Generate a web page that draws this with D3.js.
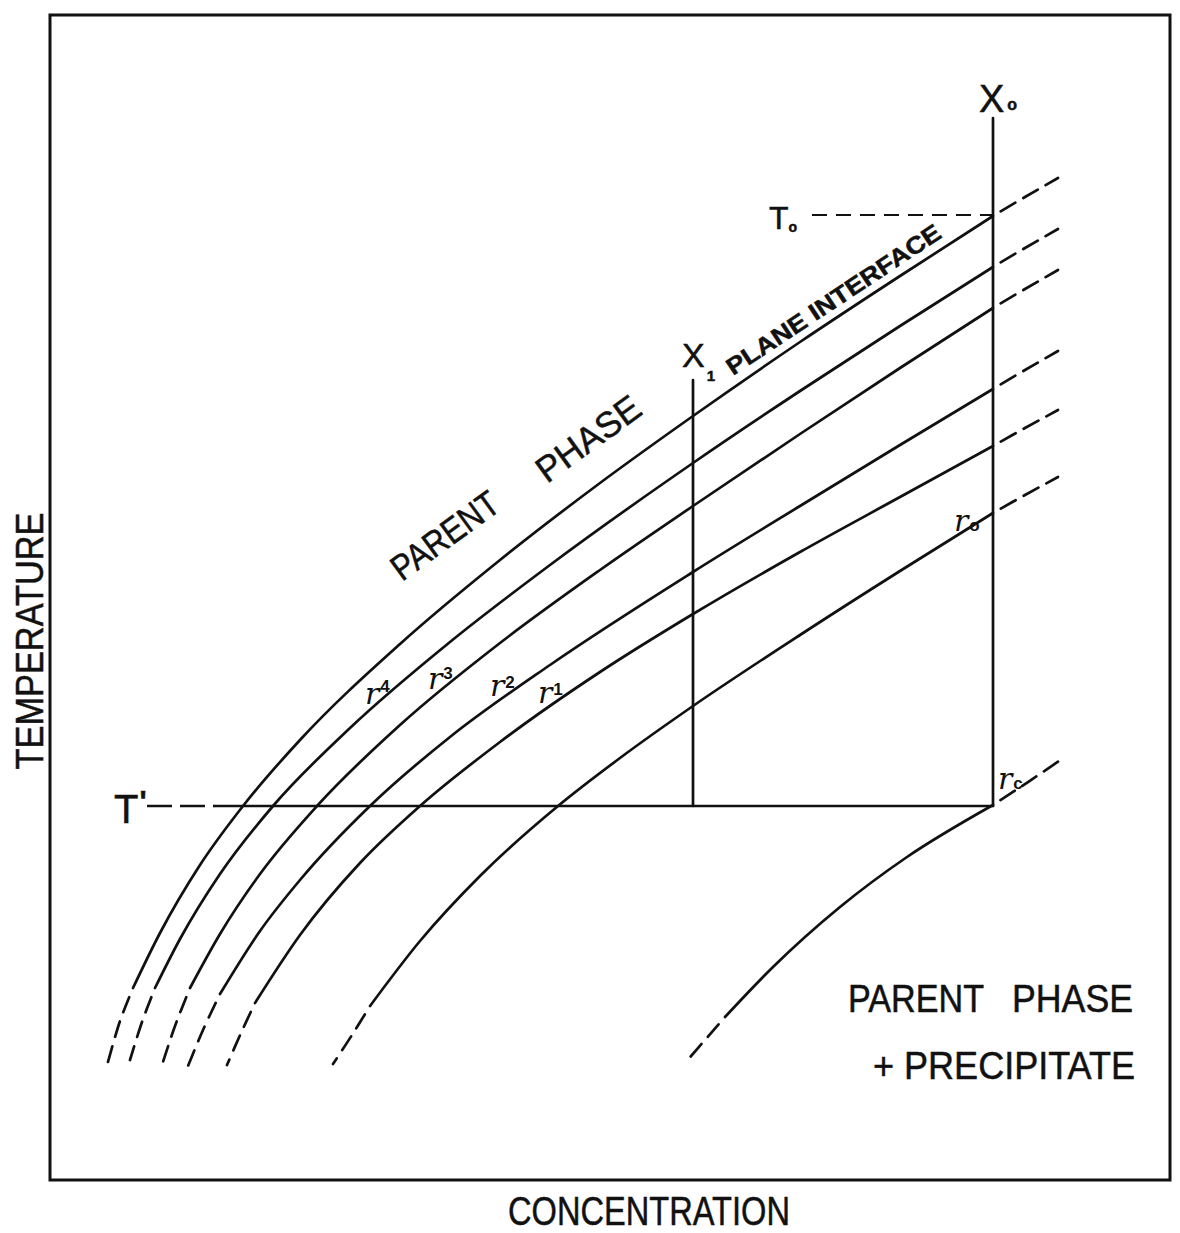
<!DOCTYPE html>
<html>
<head>
<meta charset="utf-8">
<script src="https://cdn.jsdelivr.net/npm/d3@7"></script>
<style>
  body { margin: 0; background: #fff; }
  text { font-family: 'Liberation Sans', 'DejaVu Sans', sans-serif; fill: #111; }
  text.big { stroke: #111; stroke-width: 0.5; }
</style>
</head>
<body>
<svg id="chart" width="1180" height="1233"></svg>
<script>
// concentration (x) vs temperature (y), arbitrary units
// every curve: 3 pts of lower dashed tail, solid part, 3 pts of upper dashed tail
var planeCurve = [[58,118],[70,159],[83,192],[110,247],[150,315],[193,374],[250,440],[350,536],[450,620],[550,697],[643,764],[750,838],[850,904],[943,964],[975,983],[1008,1002]]
var r4Curve = [[80,120],[92,158],[105,192],[130,241],[170,306],[223,374],[300,452],[400,538],[500,615],[643,717],[750,789],[850,854],[943,913],[975,932],[1008,951]]
var r3Curve = [[112,115],[125,154],[140,192],[170,246],[210,306],[267,374],[350,455],[450,537],[550,610],[643,674],[750,746],[850,812],[943,872],[975,891],[1008,910]]
var r2Curve = [[138,114],[153,150],[170,186],[210,249],[250,300],[320,374],[400,443],[500,515],[643,608],[750,674],[850,735],[943,791],[975,810],[1008,829]]
var r1Curve = [[177,115],[191,147],[205,177],[250,245],[310,317],[370,374],[450,438],[550,508],[643,566],[750,628],[850,683],[943,734],[975,752],[1008,770]]
var r0Curve = [[283,116],[302,145],[320,174],[370,239],[430,304],[508,374],[570,422],[643,474],[750,545],[850,609],[943,667],[975,685],[1008,703]]
var rcCurve = [[635,117],[655,140],[675,163],[723,213],[790,273],[857,323],[943,375],[978,398],[1012,421]]

var curves = [planeCurve, r4Curve, r3Curve, r2Curve, r1Curve, r0Curve, rcCurve]

// guide levels
var tPrime = 374, tZero = 965, xOne = 643, xZero = 943
var xOneTop = 800, xZeroTop = 1062
var tPrimeDashFrom = 97, tPrimeSolidFrom = 165, tZeroFrom = 762

// curve labels: r with subscript
var rLabels = [
  {sub: '4', x: 315, y: 476, raise: 12},
  {sub: '3', x: 378, y: 491, raise: 10},
  {sub: '2', x: 440, y: 484, raise: 8},
  {sub: '1', x: 488, y: 477, raise: 8},
  {sub: 'o', x: 904, y: 649, raise: 0},
  {sub: 'c', x: 948, y: 391, raise: 0}
]

var svg = d3.select('#chart')

var x = d3.scaleLinear().domain([0, 1120]).range([50, 1170])
var y = d3.scaleLinear().domain([0, 1165]).range([1180, 15])

// frame
svg.append('rect')
  .attr('x', x(0)).attr('y', y(1165))
  .attr('width', x(1120) - x(0)).attr('height', y(0) - y(1165))
  .attr('fill', 'none').attr('stroke', '#111').attr('stroke-width', 3)

var line = d3.line()
  .x(d => x(d[0]))
  .y(d => y(d[1]))
  .curve(d3.curveMonotoneX)

var tail = d3.line()
  .x(d => x(d[0]))
  .y(d => y(d[1]))
  .curve(d3.curveCatmullRom)

var ink = svg.append('g').attr('fill', 'none').attr('stroke', '#111').attr('stroke-linecap', 'round')

curves.forEach(pts => {
  var n = pts.length
  ink.append('path').attr('d', line(pts.slice(2, n - 2))).attr('stroke-width', 2.7)
  // lower tail drawn from solid end downwards, starts with a gap
  ink.append('path').attr('d', tail(pts.slice(0, 3).reverse()))
    .attr('stroke-width', 2.7).attr('stroke-dasharray', '16,10').attr('stroke-dashoffset', 16)
  ink.append('path').attr('d', tail(pts.slice(n - 3)))
    .attr('stroke-width', 2.7).attr('stroke-dasharray', '17,9').attr('stroke-dashoffset', 17)
})

// T' line
ink.append('line')
  .attr('x1', x(tPrimeDashFrom)).attr('x2', x(tPrimeSolidFrom))
  .attr('y1', y(tPrime)).attr('y2', y(tPrime))
  .attr('stroke-width', 2.4).attr('stroke-dasharray', '25,8').attr('stroke-linecap', 'butt')
ink.append('line')
  .attr('x1', x(tPrimeSolidFrom)).attr('x2', x(xZero))
  .attr('y1', y(tPrime)).attr('y2', y(tPrime))
  .attr('stroke-width', 2.7)

// T0 line
ink.append('line')
  .attr('x1', x(tZeroFrom)).attr('x2', x(xZero))
  .attr('y1', y(tZero)).attr('y2', y(tZero))
  .attr('stroke-width', 2.2).attr('stroke-dasharray', '15,9').attr('stroke-linecap', 'butt')

// X1 and X0 verticals
ink.append('line')
  .attr('x1', x(xOne)).attr('x2', x(xOne))
  .attr('y1', y(tPrime)).attr('y2', y(xOneTop))
  .attr('stroke-width', 2.7)
ink.append('line')
  .attr('x1', x(xZero)).attr('x2', x(xZero))
  .attr('y1', y(tPrime)).attr('y2', y(xZeroTop))
  .attr('stroke-width', 2.7)

// text helpers
function label(str, px, py, size, opts) {
  opts = opts || {}
  var t = svg.append('text')
    .attr('class', 'big')
    .attr('x', px).attr('y', py)
    .attr('font-size', size)
    .text(str)
  if (opts.anchor) t.attr('text-anchor', opts.anchor)
  if (opts.weight) t.attr('font-weight', opts.weight)
  if (opts.len) t.attr('textLength', opts.len).attr('lengthAdjust', 'spacingAndGlyphs')
  if (opts.rotate != null) t.attr('transform', `rotate(${opts.rotate},${px},${py})`)
  return t
}

// symbol with a small subscript / prime in the same text element
function symbol(main, sub, px, py, size, subSize, dx, dy) {
  var t = svg.append('text').attr('class', 'big')
    .attr('x', px).attr('y', py).attr('font-size', size)
  t.append('tspan').text(main)
  t.append('tspan').attr('dx', dx).attr('dy', dy)
    .attr('font-size', subSize).attr('font-weight', 'bold').text(sub)
}

symbol('X', 'o', x(xZero) - 14, y(xZeroTop) - 6, 38, 16, 3, -2)
symbol('T', 'o', x(tZeroFrom) - 43, y(tZero) + 14, 32, 14, 0, 3)
symbol('X', '1', x(xOne) - 11, y(xOneTop) - 13, 34, 15, 2, 14)
symbol('T', "'", x(tPrimeDashFrom) - 33, y(tPrime) + 17, 40, 30, 1, -12)

// r labels
rLabels.forEach(d => {
  var px = x(d.x), py = y(d.y)
  var t = svg.append('text').attr('x', px).attr('y', py)
  t.append('tspan')
    .attr('font-family', 'DejaVu Serif').attr('font-style', 'italic')
    .attr('font-size', 30).text('r')
  t.append('tspan').attr('dx', 1).attr('dy', -d.raise)
    .attr('font-size', 17).attr('font-weight', 'bold').text(d.sub)
})

// region labels
label('PLANE INTERFACE', 733, 376, 24, {weight: 'bold', len: 252, rotate: -33.5})
label('PARENT', 402, 582, 36, {len: 124, rotate: -36})
label('PHASE', 547, 484, 36, {len: 120, rotate: -36})
label('PARENT', 848, 1012, 38, {len: 136})
label('PHASE', 1012, 1012, 38, {len: 121})
label('+ PRECIPITATE', 873, 1079, 38, {len: 262})

// axis titles
label('CONCENTRATION', 649, 1225, 41, {anchor: 'middle', len: 282})
label('TEMPERATURE', 43, 641, 38, {anchor: 'middle', len: 257, rotate: -90})
</script>
</body>
</html>
